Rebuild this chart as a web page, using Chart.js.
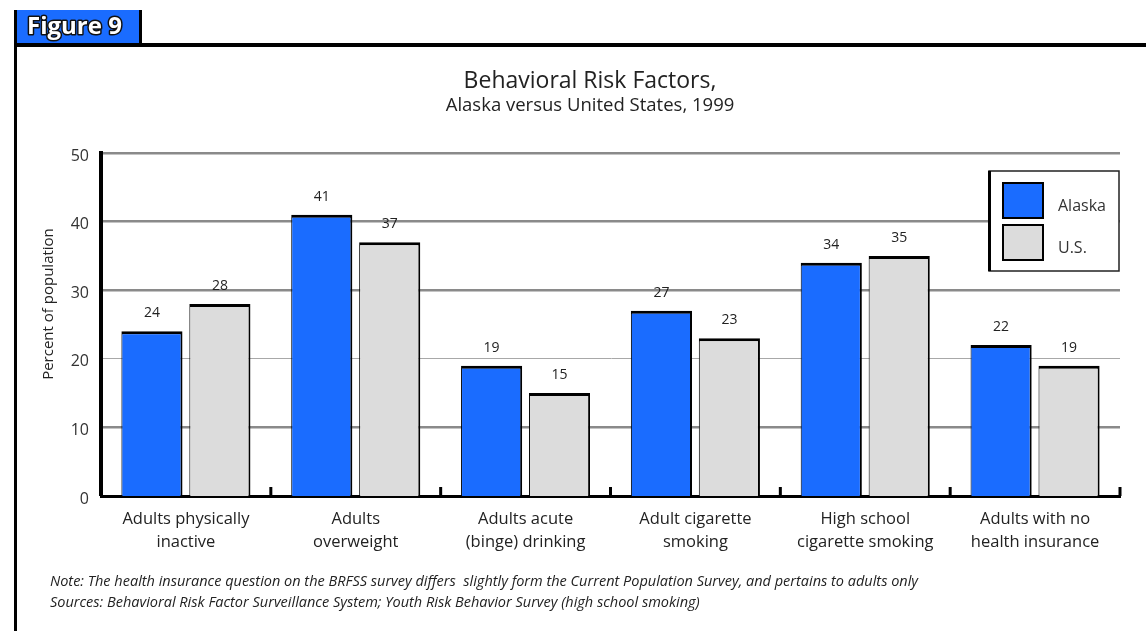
<!DOCTYPE html>
<html>
<head>
<meta charset="utf-8">
<script src="https://cdn.jsdelivr.net/npm/chart.js@4.4.1/dist/chart.umd.min.js"></script>
<style>
  html, body { margin: 0; padding: 0; background: #fff; }
  #wrap { width: 1146px; height: 631px; position: relative; }
</style>
</head>
<body>
<div id="wrap"><canvas id="chart" width="1146" height="631"></canvas></div>
<script>
// Données
const categories = [
    ['Adults physically', 'inactive'],
    ['Adults', 'overweight'],
    ['Adults acute', '(binge) drinking'],
    ['Adult cigarette', 'smoking'],
    ['High school', 'cigarette smoking'],
    ['Adults with no', 'health insurance']
];
const alaskaValues = [24, 41, 19, 27, 34, 22];
const usValues = [28, 37, 15, 23, 35, 19];
const yTicks = [0, 10, 20, 30, 40, 50];

const figureLabel = 'Figure 9';
const titleText = 'Behavioral Risk Factors,';
const subtitleText = 'Alaska versus United States, 1999';
const yTitle = 'Percent of population';
const notes = [
    'Note: The health insurance question on the BRFSS survey differs  slightly form the Current Population Survey, and pertains to adults only',
    'Sources: Behavioral Risk Factor Surveillance System; Youth Risk Behavior Survey (high school smoking)'
];

const FONT = '"Open Sans", sans-serif';
const BLUE = '#1a6cff';
const GRAY = '#dcdcdc';

// Cadre, onglet "Figure 9", titres et notes
const framePlugin = {
    id: 'frame',
    beforeDraw(chart) {
        const ctx = chart.ctx;
        ctx.save();
        ctx.fillStyle = '#fff';
        ctx.fillRect(0, 0, chart.width, chart.height);

        // onglet bleu
        ctx.fillStyle = BLUE;
        ctx.fillRect(16, 10, 124, 34);
        ctx.fillStyle = '#000';
        ctx.fillRect(14, 10, 3, chart.height - 10);
        ctx.fillRect(139, 10, 3, 35);
        ctx.fillRect(14, 43, chart.width - 14, 4);

        ctx.font = 'bold 24px ' + FONT;
        ctx.textBaseline = 'alphabetic';
        ctx.textAlign = 'left';
        ctx.lineWidth = 3;
        ctx.lineJoin = 'round';
        ctx.strokeStyle = '#111';
        ctx.strokeText(figureLabel, 27, 34);
        ctx.fillStyle = '#fff';
        ctx.fillText(figureLabel, 27, 34);

        // titres
        const cx = 590;
        ctx.fillStyle = '#222';
        ctx.textAlign = 'center';
        ctx.textBaseline = 'middle';
        ctx.font = '23px ' + FONT;
        ctx.fillText(titleText, cx, 81);
        ctx.font = '18.5px ' + FONT;
        ctx.fillText(subtitleText, cx, 106);

        // titre de l'axe Y
        ctx.save();
        ctx.translate(49, 304);
        ctx.rotate(-Math.PI / 2);
        ctx.font = '15px ' + FONT;
        ctx.fillText(yTitle, 0, 0);
        ctx.restore();

        // notes en bas
        ctx.textAlign = 'left';
        ctx.font = 'italic 14.5px ' + FONT;
        ctx.fillStyle = '#222';
        ctx.fillText(notes[0], 50, 582);
        ctx.fillText(notes[1], 50, 603);
        ctx.restore();
    },
    afterDraw(chart) {
        const ctx = chart.ctx;
        const area = chart.chartArea;
        const xs = chart.scales.x;
        ctx.save();
        // petites graduations entre les catégories
        ctx.fillStyle = '#000';
        const n = categories.length;
        for (let i = 1; i <= n; i++) {
            const x = xs.left + i * (xs.width / n);
            ctx.fillRect(x - 1.5, area.bottom - 9, 3, 9);
        }

        // légende
        const boxW = 130, boxH = 100;
        const lx = area.right - boxW - 1;
        const ly = area.top + 18;
        ctx.fillStyle = '#fff';
        ctx.fillRect(lx, ly, boxW, boxH);
        ctx.strokeStyle = '#222';
        ctx.lineWidth = 1.5;
        ctx.strokeRect(lx, ly, boxW, boxH);
        ctx.fillStyle = '#000';
        ctx.fillRect(lx - 1, ly, 3, boxH);

        ctx.font = '16px ' + FONT;
        ctx.textBaseline = 'middle';
        ctx.textAlign = 'left';
        chart.data.datasets.forEach((ds, i) => {
            const sy = ly + 12 + i * 42;
            ctx.fillStyle = ds.backgroundColor;
            ctx.fillRect(lx + 14, sy, 40, 35);
            ctx.strokeStyle = '#000';
            ctx.lineWidth = 2;
            ctx.strokeRect(lx + 14, sy, 40, 35);
            ctx.fillStyle = '#333';
            ctx.fillText(ds.label, lx + 69, sy + 23);
        });
        ctx.restore();
    }
};

// Valeurs au-dessus des barres
const valueLabels = {
    id: 'valueLabels',
    afterDatasetsDraw(chart) {
        const ctx = chart.ctx;
        ctx.save();
        ctx.font = '14px ' + FONT;
        ctx.fillStyle = '#222';
        ctx.textAlign = 'center';
        ctx.textBaseline = 'middle';
        chart.data.datasets.forEach((ds, i) => {
            chart.getDatasetMeta(i).data.forEach((bar, j) => {
                ctx.fillText(ds.data[j], bar.x, bar.y - 18);
            });
        });
        ctx.restore();
    }
};

const ctx = document.getElementById('chart').getContext('2d');
new Chart(ctx, {
    type: 'bar',
    data: {
        labels: categories,
        datasets: [{
            label: 'Alaska',
            data: alaskaValues,
            backgroundColor: BLUE,
            borderColor: '#000',
            borderWidth: { top: 3, left: 1, right: 2, bottom: 0 },
            borderSkipped: false
        }, {
            label: 'U.S.',
            data: usValues,
            backgroundColor: GRAY,
            borderColor: '#000',
            borderWidth: { top: 3, left: 1, right: 2, bottom: 0 },
            borderSkipped: false
        }]
    },
    options: {
        responsive: false,
        animation: false,
        devicePixelRatio: 1,
        categoryPercentage: 0.8,
        barPercentage: 0.9,
        layout: {
            padding: { top: 153, right: 26, bottom: 55, left: 0 }
        },
        plugins: {
            legend: { display: false },
            title: { display: false },
            tooltip: { enabled: false }
        },
        scales: {
            x: {
                grid: { display: false },
                border: { color: '#000', width: 3 },
                ticks: {
                    color: '#222',
                    font: { family: FONT, size: 16.5, lineHeight: 1.38 },
                    padding: 4,
                    maxRotation: 0,
                    autoSkip: false
                },
                afterFit(scale) { scale.height = 80; }
            },
            y: {
                min: 0,
                max: 50,
                afterBuildTicks(scale) {
                    scale.ticks = yTicks.map(v => ({ value: v }));
                },
                grid: {
                    drawTicks: false,
                    color: (c) => c.tick && c.tick.value === 20 ? '#a8a8a8' : '#8a8a8a',
                    lineWidth: (c) => {
                        if (!c.tick || c.tick.value === 0) return 0;
                        return c.tick.value === 20 ? 1 : 2.5;
                    }
                },
                border: { color: '#000', width: 4 },
                ticks: {
                    color: '#333',
                    font: { family: FONT, size: 16 },
                    padding: 12,
                    labelOffset: 3
                },
                afterFit(scale) { scale.width = 101; }
            }
        }
    },
    plugins: [framePlugin, valueLabels]
});
</script>
</body>
</html>
